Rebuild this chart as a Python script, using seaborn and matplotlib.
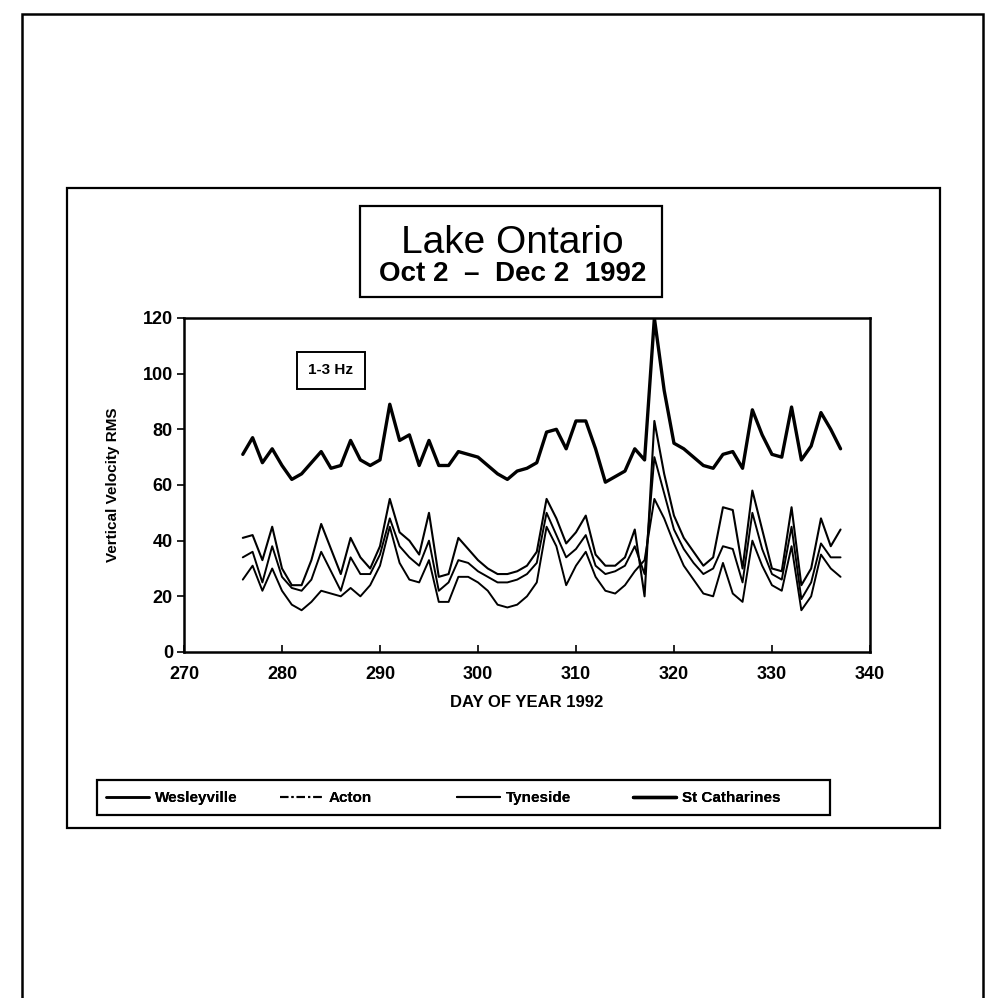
import matplotlib
matplotlib.use("Agg")
import matplotlib.pyplot as plt
import seaborn as sns
import pandas as pd
import numpy as np
from matplotlib.patches import Rectangle
from matplotlib.lines import Line2D

days = list(range(276, 338))

st_catharines = [71, 77, 68, 73, 67, 62, 64, 68, 72, 66, 67, 76, 69, 67, 69, 89, 76, 78, 67, 76,
                 67, 67, 72, 71, 70, 67, 64, 62, 65, 66, 68, 79, 80, 73, 83, 83, 73, 61, 63, 65,
                 73, 69, 120, 94, 75, 73, 70, 67, 66, 71, 72, 66, 87, 78, 71, 70, 88, 69, 74, 86,
                 80, 73]
wesleyville = [41, 42, 33, 45, 30, 24, 24, 33, 46, 37, 28, 41, 34, 30, 38, 55, 43, 40, 35, 50,
               27, 28, 41, 37, 33, 30, 28, 28, 29, 31, 36, 55, 48, 39, 43, 49, 35, 31, 31, 34,
               44, 20, 83, 64, 49, 41, 36, 31, 34, 52, 51, 30, 58, 44, 30, 29, 52, 24, 30, 48,
               38, 44]
acton = [34, 36, 25, 38, 27, 23, 22, 26, 36, 29, 22, 34, 28, 28, 35, 48, 38, 34, 31, 40,
         22, 25, 33, 32, 29, 27, 25, 25, 26, 28, 32, 50, 42, 34, 37, 42, 31, 28, 29, 31,
         38, 28, 70, 57, 44, 37, 32, 28, 30, 38, 37, 25, 50, 37, 28, 26, 45, 19, 25, 39,
         34, 34]
tyneside = [26, 31, 22, 30, 22, 17, 15, 18, 22, 21, 20, 23, 20, 24, 31, 45, 32, 26, 25, 33,
            18, 18, 27, 27, 25, 22, 17, 16, 17, 20, 25, 45, 38, 24, 31, 36, 27, 22, 21, 24,
            29, 33, 55, 48, 39, 31, 26, 21, 20, 32, 21, 18, 40, 31, 24, 22, 38, 15, 20, 35,
            30, 27]

stations = ["Wesleyville", "Acton", "Tyneside", "St Catharines"]
series = [wesleyville, acton, tyneside, st_catharines]
x_ticks = [270, 280, 290, 300, 310, 320, 330, 340]
y_ticks = [0, 20, 40, 60, 80, 100, 120]

sns.set_theme(style="white")
plt.rcParams["font.family"] = ["Liberation Sans", "DejaVu Sans"]
for k in ["text.color", "axes.labelcolor", "xtick.color", "ytick.color", "axes.edgecolor"]:
    plt.rcParams[k] = "black"

fig = plt.figure(figsize=(9.85, 9.98), dpi=100)
ax = fig.add_axes([0.1868, 0.3467, 0.6964, 0.3347])

widths = {"Wesleyville": 1.5, "Acton": 1.4, "Tyneside": 1.4, "St Catharines": 2.4}
for name, vals in zip(stations, series):
    df = pd.DataFrame({"day": days, "rms": vals})
    sns.lineplot(data=df, x="day", y="rms", color="black", lw=widths[name], ax=ax,
                 estimator=None)

ax.set_xlim(270, 340)
ax.set_ylim(0, 120)
ax.set_xticks(x_ticks)
ax.set_yticks(y_ticks)
ax.set_xticklabels([str(t) for t in x_ticks], fontsize=13, fontweight="bold")
ax.set_yticklabels([str(t) for t in y_ticks], fontsize=13, fontweight="bold")
ax.tick_params(axis="x", direction="in", length=5, width=1.2, pad=10, colors="black")
ax.tick_params(axis="y", direction="out", length=5, width=1.2, pad=3, colors="black")
ax.tick_params(bottom=True, left=True)
ax.set_xlabel("DAY OF YEAR 1992", fontsize=12, fontweight="bold", labelpad=9)
ax.set_ylabel("Vertical Velocity RMS", fontsize=11, fontweight="bold", labelpad=16)
for s in ax.spines.values():
    s.set_color("black")
    s.set_linewidth(1.8)

ax.text(0.214, 0.843, "1-3 Hz", transform=ax.transAxes, ha="center", va="center",
        fontsize=11, fontweight="bold",
        bbox=dict(boxstyle="square,pad=0.75", fc="white", ec="black", lw=1.4))

# Title box
fig.patches.append(Rectangle((0.3655, 0.7024), 0.3066, 0.0912, transform=fig.transFigure,
                             fill=False, ec="black", lw=1.6))
fig.text(0.52, 0.757, "Lake Ontario", ha="center", va="center", fontsize=28, color="black")
fig.text(0.52, 0.7255, "Oct 2  \u2013  Dec 2  1992", ha="center", va="center",
         fontsize=20, fontweight="bold", color="black")

# Outer frame
fig.patches.append(Rectangle((0.068, 0.1703), 0.886, 0.6413, transform=fig.transFigure,
                             fill=False, ec="black", lw=1.6))
# Page border
fig.patches.append(Rectangle((0.0223, -0.02), 0.976, 1.006, transform=fig.transFigure,
                             fill=False, ec="black", lw=1.8))

# Legend box
fig.patches.append(Rectangle((0.0985, 0.1834), 0.744, 0.035, transform=fig.transFigure,
                             fill=False, ec="black", lw=1.6))
handles = [Line2D([0], [0], color="black", lw=1.8),
           Line2D([0], [0], color="black", lw=1.5, dashes=(4, 1.5, 1, 1.5)),
           Line2D([0], [0], color="black", lw=1.5),
           Line2D([0], [0], color="black", lw=2.4)]
x_starts = [0.1075, 0.284, 0.464, 0.643]
for h, lab, xs in zip(handles, stations, x_starts):
    lg = fig.legend([h], [lab], loc="center left", bbox_to_anchor=(xs, 0.2005),
                    bbox_transform=fig.transFigure, frameon=False,
                    prop={"size": 11, "weight": "bold"},
                    handlelength=2.8, handletextpad=0.4, borderaxespad=0, borderpad=0)
    fig.add_artist(lg)

fig.savefig("out.png", dpi=100)
